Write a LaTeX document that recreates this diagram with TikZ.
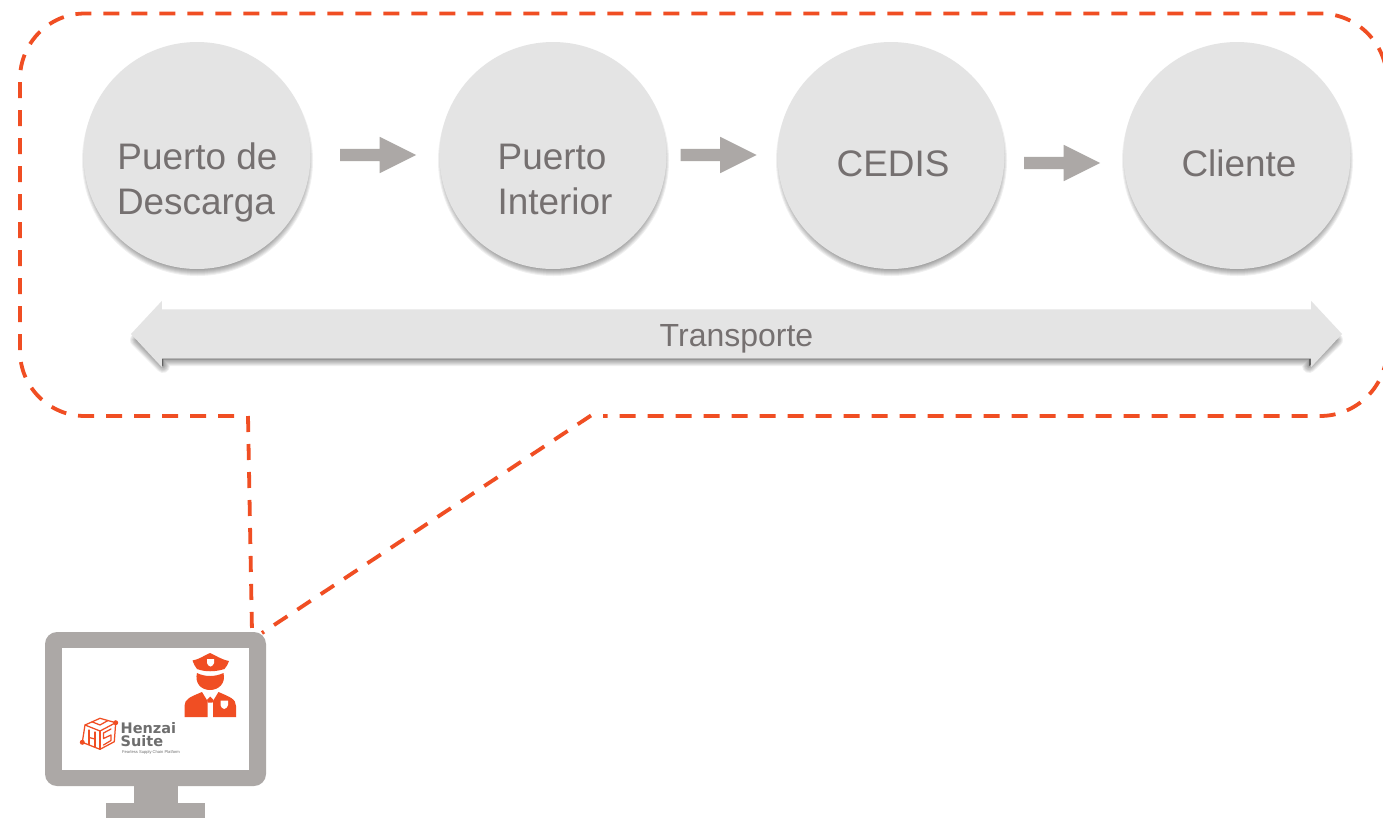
\documentclass[tikz,border=0pt]{standalone}
\usepackage{fontspec}
\setmainfont{Liberation Sans}
\newfontfamily\logofont{DejaVu Sans}[BoldFont={DejaVu Sans Bold}]
\usetikzlibrary{shapes.arrows}
\definecolor{accent}{HTML}{F04E23}
\definecolor{monigray}{HTML}{ACA8A6}
\definecolor{softgray}{HTML}{E4E4E4}
\definecolor{labelgray}{HTML}{757070}
\definecolor{logogray}{HTML}{6E6E6E}
\tikzset{
  stopcircle/.style={circle,fill=softgray,inner sep=0pt,minimum size=227pt},
  stoplabel/.style={text=labelgray,font=\fontsize{36.9}{40}\selectfont,anchor=base},
  flowarrow/.style={single arrow,fill=monigray,inner xsep=0pt,inner ysep=6pt,minimum height=76pt,minimum width=36pt,
     single arrow head extend=12pt,single arrow tip angle=53},
  dashline/.style={draw=accent,line width=3.8pt,dash pattern=on 16pt off 12pt},
  logoline/.style={draw=accent,line width=1.25pt,line join=round,line cap=round},
  screenpart/.style={fill=monigray},
}
\newcommand{\circshadow}[2]{%
  \foreach \r in {115.5,114.5,113.5,112.5,111.5,110.5,109.5,108.5}{%
    \fill[black,opacity=0.06] (#1+0.5,#2+5) circle (\r);}%
}
\begin{document}
\begin{tikzpicture}[x=1pt,y=-1pt]
\useasboundingbox (0,0) rectangle (1383,817);
\clip (0,0) rectangle (1383,817);
\fill[white] (0,0) rectangle (1383,817);

% callout
\coordinate (calloutL) at (248,416);
\coordinate (calloutR) at (591,415.5);
\coordinate (screenTop) at (252,632);
\coordinate (screenCorner) at (262,633);
\draw[dashline,dash phase=16pt] (246,416) -- (85,416) arc[start angle=90,end angle=180,radius=65] -- (20,79)
   arc[start angle=180,end angle=270,x radius=65,y radius=65.5] -- (1320,13.5)
   arc[start angle=-90,end angle=0,radius=67] -- (1387,349) arc[start angle=0,end angle=90,radius=67] -- (603,416);
\draw[dashline] (calloutL) -- (screenTop);
\draw[dashline] (calloutR) -- (screenCorner);

% shadows
\circshadow{197}{155.5}
\circshadow{553}{155.5}
\circshadow{891}{155.5}
\circshadow{1237}{155.5}
\foreach \w in {14,12,10,8,6,4,2,0.5}{
  \filldraw[black,opacity=0.06,line width=\w pt,line join=round]
   (137,340) -- (163,322) -- (1309,322) -- (1336,340) -- (1309,366) -- (1309,359) -- (163,359) -- (163,366) -- cycle;
}

% stops
\node[stopcircle] (s1) at (197,155.5) {};
\node[stopcircle] (s2) at (553,155.5) {};
\node[stopcircle] (s3) at (891,155.5) {};
\node[stopcircle] (s4) at (1237,155.5) {};
\node[stoplabel] (l1a) at (197.5,169) {Puerto de};
\node[stoplabel] (l1b) at (196,214) {Descarga};
\node[stoplabel] (l2a) at (552,169) {Puerto};
\node[stoplabel] (l2b) at (555,214) {Interior};
\node[stoplabel] (l3) at (893,176) {CEDIS};
\node[stoplabel] (l4) at (1239,176) {Cliente};

% flow arrows
\node[flowarrow] (a1) at (372,155) {};
\node[flowarrow] (a2) at (712.5,155) {};
\node[flowarrow] (a3) at (1056,163) {};

% transport band
\node[double arrow,fill=softgray,inner sep=0pt,minimum height=1211pt,minimum width=66pt,
  text height=37pt,text depth=12pt,
  double arrow head extend=8.5pt,double arrow tip angle=94,text=labelgray,
  font=\fontsize{32}{34}\selectfont] (band) at (736.5,334) {Transporte};

% monitor
\node[screenpart,inner sep=0pt,minimum width=44pt,minimum height=18pt] (stand) at (156,795) {};
\node[screenpart,inner sep=0pt,minimum width=99pt,minimum height=15pt] (base) at (155.5,810.5) {};
\node[screenpart,rounded corners=12pt,inner sep=0pt,minimum width=221pt,minimum height=154pt] (monitor) at (155.5,709) {};
\node[fill=white,inner sep=0pt,minimum width=187pt,minimum height=122pt] (screen) at (155.5,709) {};

% officer
\fill[accent] (192.5,660.5) .. controls (199,659.5) and (205,655) .. (210,653) .. controls (215,655) and (221,659.5) .. (229,661)
   .. controls (229,664) and (226,666) .. (224.5,669) .. controls (215,672) and (205,672) .. (197,669) .. controls (195.5,666) and (193,664) .. (192.5,660.5) -- cycle;
\fill[white] (207,659) -- (214,659) -- (214,663) .. controls (214,665) and (212,666) .. (210.5,666.5) .. controls (209,666) and (207,665) .. (207,663) -- cycle;
\fill[accent] (197,673) .. controls (205,677) and (215,677) .. (223.5,673) .. controls (226,683) and (219,690) .. (210,690) .. controls (201,690) and (194.5,683) .. (197,673) -- cycle;
\fill[accent] (184.5,717) -- (184.5,706) .. controls (184.5,699) and (190,697) .. (202,692) -- (207.5,701) -- (207.5,717) -- cycle;
\fill[accent] (236,717) -- (236,706) .. controls (236,699) and (230,697) .. (218.5,692) -- (213,701) -- (213,717) -- cycle;
\fill[accent] (210.2,696.5) -- (213.5,700) -- (212.5,702.5) -- (208,702.5) -- (207,700) -- cycle;
\fill[white] (220.5,700.5) -- (228,700.5) -- (228,705) .. controls (228,707) and (226,708.5) .. (224.2,709) .. controls (222.5,708.5) and (220.5,707) .. (220.5,705) -- cycle;

% logo
\draw[logoline] (100,718.3) -- (115.7,722.7) -- (114.3,741.7) -- (100,749.3) -- (82.3,742.3) -- (85,725) -- cycle;
\draw[logoline] (85,725) -- (100,731) -- (115.7,722.7);
\draw[logoline] (92,721.8) -- (100,725) -- (108,720.5);
\draw[logoline] (100,731) -- (100,749.3);
\draw[logoline] (89,730) -- (89,744.5);
\draw[logoline] (95,732) -- (95,747);
\draw[logoline] (89,737.5) -- (95,739);
\draw[logoline] (111,729) -- (103.5,733) -- (103.5,738.5) -- (111,735) -- (111,740.5) -- (103.5,745);
\fill[accent] (115.7,722.7) circle (2.5);
\fill[accent] (82.3,742.3) circle (2.5);
\node[anchor=base west,inner sep=0pt,text=logogray,font=\logofont\bfseries\fontsize{14.5}{16}\selectfont] (henzai) at (120.5,733.3) {Henzai};
\node[anchor=base west,inner sep=0pt,text=logogray,font=\logofont\bfseries\fontsize{14.5}{16}\selectfont] (suite) at (120.5,746.7) {Suite};
\node[anchor=base west,inner sep=0pt,text=logogray,font=\fontsize{4.1}{5}\selectfont] (tag) at (122,753) {Fearless Supply Chain Platform};
\end{tikzpicture}
\end{document}
